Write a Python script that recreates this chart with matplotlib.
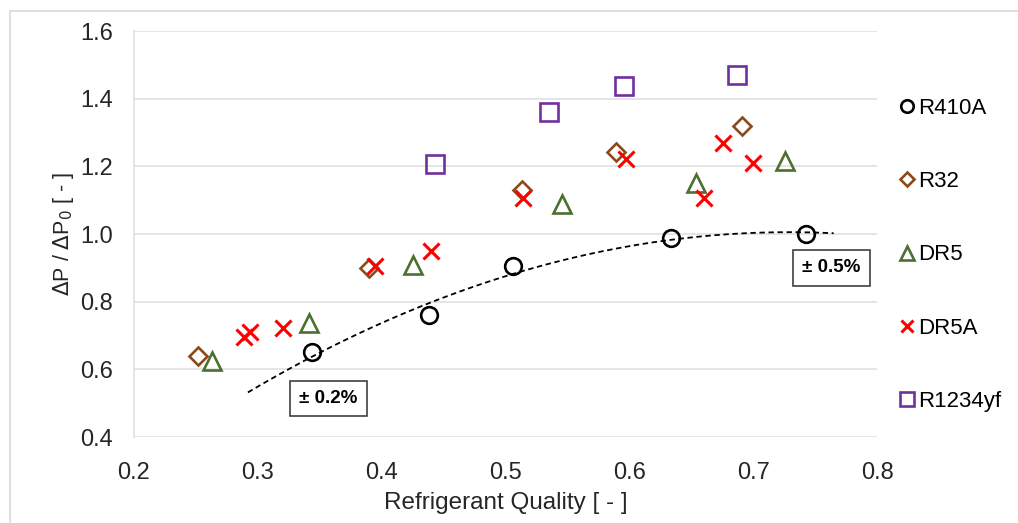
import numpy as np
import matplotlib
matplotlib.use("Agg")
import matplotlib.pyplot as plt
from matplotlib.patches import Rectangle

plt.rcParams['font.family'] = ['Liberation Sans', 'DejaVu Sans']

# --------------------------
# Data
# --------------------------
r410a_x = [0.344, 0.438, 0.506, 0.634, 0.743]
r410a_y = [0.650, 0.760, 0.905, 0.987, 1.001]

r32_x = [0.252, 0.390, 0.513, 0.589, 0.691]
r32_y = [0.638, 0.899, 1.130, 1.242, 1.319]

dr5_x = [0.263, 0.341, 0.425, 0.546, 0.654, 0.726]
dr5_y = [0.624, 0.736, 0.908, 1.088, 1.150, 1.215]

dr5a_x = [0.289, 0.294, 0.320, 0.395, 0.440, 0.514, 0.597, 0.660, 0.676, 0.700]
dr5a_y = [0.695, 0.709, 0.721, 0.905, 0.949, 1.106, 1.221, 1.106, 1.269, 1.209]

r1234yf_x = [0.443, 0.535, 0.596, 0.687]
r1234yf_y = [1.206, 1.360, 1.437, 1.470]

trend_range = [0.292, 0.765]

# --------------------------
# Plot
# --------------------------
fig = plt.figure(figsize=(10.18, 5.23), dpi=100)
ax = fig.add_axes([0.1316, 0.1644, 0.7299, 0.7763])

mew = 1.9
ax.plot(r410a_x, r410a_y, 'o', ms=12, mfc='none', mec='black', mew=mew, label='R410A', zorder=4)
ax.plot(r32_x, r32_y, 'D', ms=9, mfc='none', mec='#8B4A1C', mew=mew, label='R32', zorder=4)
ax.plot(dr5_x, dr5_y, '^', ms=12.5, mfc='none', mec='#4B7030', mew=mew, label='DR5', zorder=4)
ax.plot(dr5a_x, dr5a_y, 'x', ms=11.5, color='#FF0000', mew=2.2, label='DR5A', zorder=4)
ax.plot(r1234yf_x, r1234yf_y, 's', ms=13, mfc='none', mec='#7030A0', mew=mew, label='R1234yf', zorder=4)

# second-order trendline through R410A points
coef = np.polyfit(r410a_x, r410a_y, 2)
tx = np.linspace(trend_range[0], trend_range[1], 100)
ax.plot(tx, np.polyval(coef, tx), '--', color='black', lw=1.3, dashes=(3, 2), zorder=3)

ax.set_xlim(0.2, 0.8)
ax.set_ylim(0.4, 1.6)
ax.set_xticks(np.arange(0.2, 0.81, 0.1))
ax.set_yticks(np.arange(0.4, 1.61, 0.2))
ax.set_xticklabels(['0.2', '0.3', '0.4', '0.5', '0.6', '0.7', '0.8'])
ax.set_yticklabels(['0.4', '0.6', '0.8', '1.0', '1.2', '1.4', '1.6'])
ax.tick_params(axis='both', length=0, labelsize=17, colors='#262626')
ax.tick_params(axis='x', pad=18)
ax.tick_params(axis='y', pad=15)
ax.grid(axis='y', color='#E0E0E0', lw=1.2)
ax.set_axisbelow(True)
for s in ['top', 'right', 'bottom']:
    ax.spines[s].set_visible(False)
ax.spines['left'].set_color('#E0E0E0')
ax.spines['left'].set_linewidth(1.2)

ax.set_xlabel('Refrigerant Quality [ - ]', fontsize=17.5, color='#262626', labelpad=6)
ax.set_ylabel(r'$\Delta$P / $\Delta$P$_0$ [ - ]', fontsize=15.5, color='#262626', labelpad=3)

box = dict(boxstyle='square,pad=0.5', fc='white', ec='#404040', lw=1.2)
ax.text(0.357, 0.514, '± 0.2%', fontsize=13.5, fontweight='bold', ha='center', va='center', bbox=box, zorder=5)
ax.text(0.763, 0.900, '± 0.5%', fontsize=13.5, fontweight='bold', ha='center', va='center', bbox=box, zorder=5)

ax.legend(loc='upper left', bbox_to_anchor=(1.02, 0.857), frameon=False, fontsize=16,
          markerscale=0.75, handlelength=0.6, handletextpad=0.2, labelspacing=2.35,
          borderaxespad=0)

# chart area border (partially cropped in the reference)
fig.patches.append(Rectangle((10 / 1018, -0.1), 1.2, 1 - 11 / 523 + 0.1, transform=fig.transFigure,
                             fill=False, ec='#D9D9D9', lw=1.2))

fig.savefig('out.png', dpi=100)
